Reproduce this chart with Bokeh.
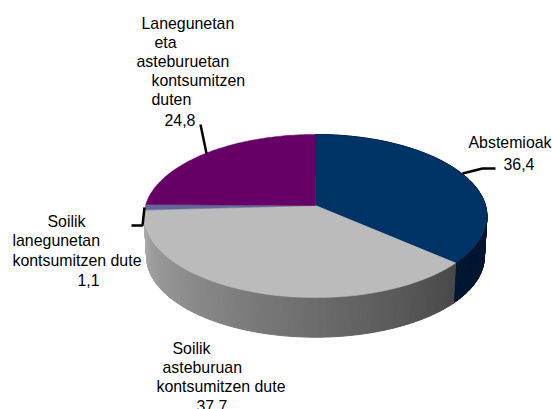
import math
from bokeh.plotting import figure
from bokeh.models import Range1d
from bokeh.core.properties import value
from bokeh.embed import file_html
from bokeh.resources import INLINE

# data
categories = ["Abstemioak", "Soilik asteburuan kontsumitzen dute",
              "Soilik lanegunetan kontsumitzen dute", "Lanegunetan eta asteburuetan kontsumitzen duten"]
values = [36.4, 37.7, 1.1, 24.8]
value_labels = ["36,4", "37,7", "1,1", "24,8"]
top_colors = ["#003366", "#BBBBBB", "#666699", "#660066"]
# side shading: colour at the clockwise start and end of each visible slice wall
side_start = [(0, 26, 56), (72, 72, 72)]
side_end = [(0, 22, 48), (172, 172, 172)]

# layout (page pixels)
W, H = 552, 409
cx, cy = 315.0, 205.0
R, S, K = 170.0, 80.2, 0.129
depth, shrink = 41.0, 0.985
text_shift = -5

p = figure(width=W, height=H, x_range=Range1d(0, W), y_range=Range1d(H, 0),
           output_backend="svg", toolbar_location=None, min_border=0, outline_line_color=None)
p.axis.visible = False
p.grid.visible = False
p.background_fill_color = "white"
p.border_fill_color = "white"


def project(theta, dy=0.0, scale=1.0):
    w = 1 + K * math.cos(theta)
    return (cx + scale * R * math.sin(theta) / w, cy + dy - scale * S * math.cos(theta) / w)


total = sum(values)
angles = [0.0]
for v in values:
    angles.append(angles[-1] + v / total * 2 * math.pi)

# walls of the two slices that face the viewer
for i in range(2):
    lo, hi = angles[i], angles[i + 1]
    n = max(2, int((hi - lo) * 60))
    for j in range(n):
        t0 = lo + (hi - lo) * j / n
        t1 = lo + (hi - lo) * (j + 1) / n
        f = (j + 0.5) / n
        c = tuple(int(side_start[i][k] + (side_end[i][k] - side_start[i][k]) * f) for k in range(3))
        col = "#%02x%02x%02x" % c
        pts = [project(t0), project(t1), project(t1, depth, shrink), project(t0, depth, shrink)]
        p.patch([q[0] for q in pts], [q[1] for q in pts], fill_color=col, line_color=col, line_width=1)

# top face
for i, v in enumerate(values):
    n = max(4, int(v * 3))
    ts = [angles[i] + (angles[i + 1] - angles[i]) * j / n for j in range(n + 1)]
    pts = [project(t) for t in ts]
    xs = [cx] + [q[0] for q in pts]
    ys = [cy] + [q[1] for q in pts]
    p.patch(xs, ys, fill_color=top_colors[i], line_color=top_colors[i], line_width=0.5)

# leaders
p.line([462, 482, 495], [173, 168, 168], line_color="black", line_width=2.5)
p.line([200, 206], [124, 153], line_color="black", line_width=2.5)
p.line([131, 142, 144], [225, 225, 207], line_color="black", line_width=2.5)

# labels
label_lines = [
    (["Abstemioak", value_labels[0]], [468, 503], [147, 168]),
    (["Soilik", "asteburuan", "kontsumitzen dute", value_labels[1]], [172, 162, 156, 196], [353, 372, 391, 410]),
    (["Soilik", "lanegunetan", "kontsumitzen dute", value_labels[2]], [47, 12, 12, 77], [226, 245, 265, 284]),
    (["Lanegunetan", "eta", "asteburuetan", "kontsumitzen", "duten", value_labels[3]],
     [141, 154, 136, 151, 151, 164], [28, 47, 66, 85, 104, 124]),
]
for texts, xs, ys in label_lines:
    p.text(xs, [y + text_shift for y in ys], text=texts, text_font=value("Liberation Sans"),
           text_font_size="15.9px", text_color="black", text_align="left", text_baseline="alphabetic")

open("out.html", "w").write(file_html(p, INLINE))
